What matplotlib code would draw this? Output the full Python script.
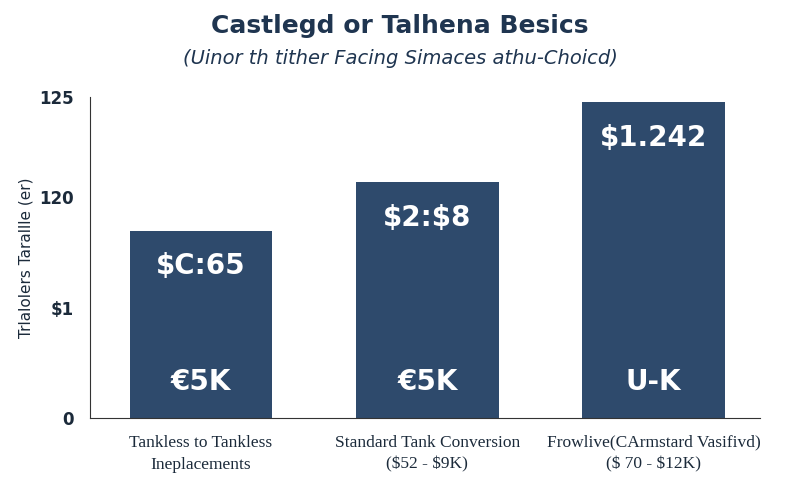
import matplotlib
matplotlib.use("Agg")
import matplotlib.pyplot as plt
plt.rcParams["text.parse_math"] = False

categories = ["Tankless to Tankless\nIneplacements", "Standard Tank Conversion\n($52 - $9K)", "Frowlive(CArmstard Vasifivd)\n($ 70 - $12K)"]
values = [73, 92, 123]
top_labels = ["$C:65", "$2:$8", "$1.242"]
bottom_labels = ["€5K", "€5K", "U-K"]
ytick_vals = [0, 43, 86, 125]
ytick_labels = ["0", "$1", "120", "125"]

color = "#2e4a6c"
fig = plt.figure(figsize=(8, 5), dpi=100)
ax = fig.add_axes([0.1125, 0.164, 0.8375, 0.642])
x = range(len(values))
ax.bar(x, values, width=0.63, color=color)
ax.set_xlim(-0.49, 2.47)
ax.set_ylim(0, 125)
ax.set_yticks(ytick_vals)
ax.set_yticklabels(ytick_labels, fontsize=12, fontweight="bold", color="#1b2a3a")
ax.set_xticks(list(x))
ax.set_xticklabels(categories, fontsize=12.5, color="#1b2a3a", family="Liberation Serif", linespacing=1.5)
ax.tick_params(length=0, pad=12)
for s in ["top", "right"]:
    ax.spines[s].set_visible(False)
ax.spines["left"].set_color("#333")
ax.spines["bottom"].set_color("#333")
ax.set_ylabel("Trlalolers Tarallle (er)", fontsize=11, color="#1b2a3a")
for i, v in enumerate(values):
    ax.text(i, v - 14, top_labels[i], ha="center", va="center", color="white", fontsize=20, fontweight="bold")
    ax.text(i, 14, bottom_labels[i], ha="center", va="center", color="white", fontsize=20, fontweight="bold")
fig.text(0.5, 0.948, "Castlegd or Talhena Besics", ha="center", va="center", fontsize=18, fontweight="bold", color="#1f3550")
fig.text(0.5, 0.884, "(Uinor th tither Facing Simaces athu-Choicd)", ha="center", va="center", fontsize=14, style="italic", color="#1f3550")
fig.savefig("out.png")
